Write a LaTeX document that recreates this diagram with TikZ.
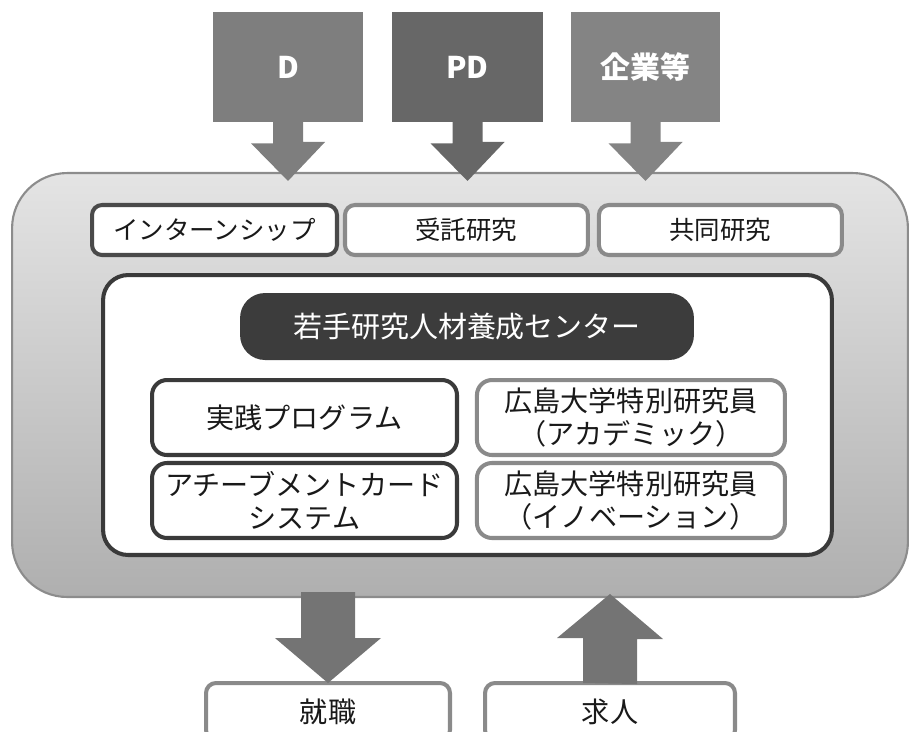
\documentclass[tikz,border=0pt]{standalone}
\usepackage{fontspec}
\setmainfont{Noto Sans CJK JP}
\usetikzlibrary{calc, positioning}

\definecolor{paneltop}{HTML}{E4E4E4}
\definecolor{panelbottom}{HTML}{AFAFAF}
\definecolor{panelline}{HTML}{8C8C8C}
\definecolor{calloutA}{HTML}{7E7E7E}
\definecolor{calloutB}{HTML}{676767}
\definecolor{calloutC}{HTML}{848484}
\definecolor{tabdark}{HTML}{4A4A4A}
\definecolor{tabgray}{HTML}{8A8A8A}
\definecolor{innerline}{HTML}{3A3A3A}
\definecolor{pillgray}{HTML}{3C3C3C}
\definecolor{arrowgray}{HTML}{747474}

\begin{document}
\begin{tikzpicture}[x=0.02cm, y=-0.02cm,
    panel/.style = {draw=panelline, line width=1.2pt, rounded corners=1.1cm,
      top color=paneltop, bottom color=panelbottom,
      minimum width=17.92cm, minimum height=8.48cm},
    callout/.style = {minimum width=3cm, minimum height=2.2cm, text=white,
      font=\fontsize{17}{20}\selectfont\bfseries},
    tab/.style = {draw=#1, fill=white, line width=2.3pt, rounded corners=0.2cm,
      minimum height=1cm, outer sep=0pt, text=black!90,
      font=\fontsize{14.5}{18}\selectfont},
    tab/.default = tabgray,
    unit/.style = {draw=#1, fill=white, line width=2.3pt, rounded corners=0.3cm,
      minimum height=1.5cm, outer sep=0pt, align=center, text=black!90,
      font=\fontsize{16}{19}\selectfont},
    unit/.default = tabgray]

\useasboundingbox (0,0) rectangle (911,731);

\node (main) [panel] at (460,385) {};

% inputs from above
\node (d) [callout, fill=calloutA] at (288,67) {D};
\node (pd) [callout, fill=calloutB, minimum width=3.02cm] at (467.5,67) {PD};
\node (firm) [callout, fill=calloutC, minimum width=2.98cm] at (645.5,67) {企業等};

\fill[calloutA] ($(d.south)+(-15,-1)$) -- ++(0,22) -- ++(-22,0)
    -- ($(d.south |- main.north)+(0,9)$) -- ++(37,-39) -- ++(-22,0) -- ++(0,-22) -- cycle;
\fill[calloutB] ($(pd.south)+(-15,-1)$) -- ++(0,22) -- ++(-22,0)
    -- ($(pd.south |- main.north)+(0,9)$) -- ++(37,-39) -- ++(-22,0) -- ++(0,-22) -- cycle;
\fill[calloutC] ($(firm.south)+(-15,-1)$) -- ++(0,22) -- ++(-22,0)
    -- ($(firm.south |- main.north)+(0,9)$) -- ++(37,-39) -- ++(-22,0) -- ++(0,-22) -- cycle;

% top row
\node (intern) [tab=tabdark, minimum width=4.9cm] at (214.5,230) {インターンシップ};
\node (contract) [tab, minimum width=4.86cm, right=0.16cm of intern] {受託研究};
\node (joint) [tab, minimum width=4.86cm, right=0.22cm of contract] {共同研究};

% centre
\node (inner) [draw=innerline, line width=2.3pt, fill=white, rounded corners=0.5cm,
    minimum width=14.58cm, minimum height=5.6cm] at (467.5,415) {};
\node (center) [fill=pillgray, rounded corners=0.5cm, minimum width=9.08cm,
    minimum height=1.34cm, text=white, font=\fontsize{16.5}{19}\selectfont] at (467,326.5)
    {若手研究人材養成センター};

\node (prog) [unit=innerline, minimum width=6.1cm] at (304.5,417.5) {実践プログラム};
\node (acad) [unit, minimum width=6.16cm, right=0.4cm of prog]
    {広島大学特別研究員\\（アカデミック）};
\node (card) [unit=innerline, minimum width=6.1cm, below=0.16cm of prog]
    {アチーブメントカード\\システム};
\node (inno) [unit, minimum width=6.16cm, below=0.16cm of acad]
    {広島大学特別研究員\\（イノベーション）};

% outputs below
\node (work) [tab, minimum width=4.88cm, minimum height=1.14cm,
    font=\fontsize{16}{19}\selectfont] at (328,711.5) {就職};
\node (offer) [tab, minimum width=5cm, minimum height=1.14cm,
    font=\fontsize{16}{19}\selectfont] at (610,711.5) {求人};

\fill[arrowgray] ($(work.north)+(-27,-91)$) -- ++(0,46) -- ++(-26,0) -- (work.north)
    -- ++(53,-45) -- ++(-26,0) -- ++(0,-46) -- cycle;
\fill[arrowgray] ($(offer.north)+(-27,0)$) -- ++(0,-45) -- ++(-26,0)
    -- ($(offer.north |- main.south)+(0,-4)$) -- ++(53,45) -- ++(-26,0) -- ++(0,45) -- cycle;

\end{tikzpicture}
\end{document}
